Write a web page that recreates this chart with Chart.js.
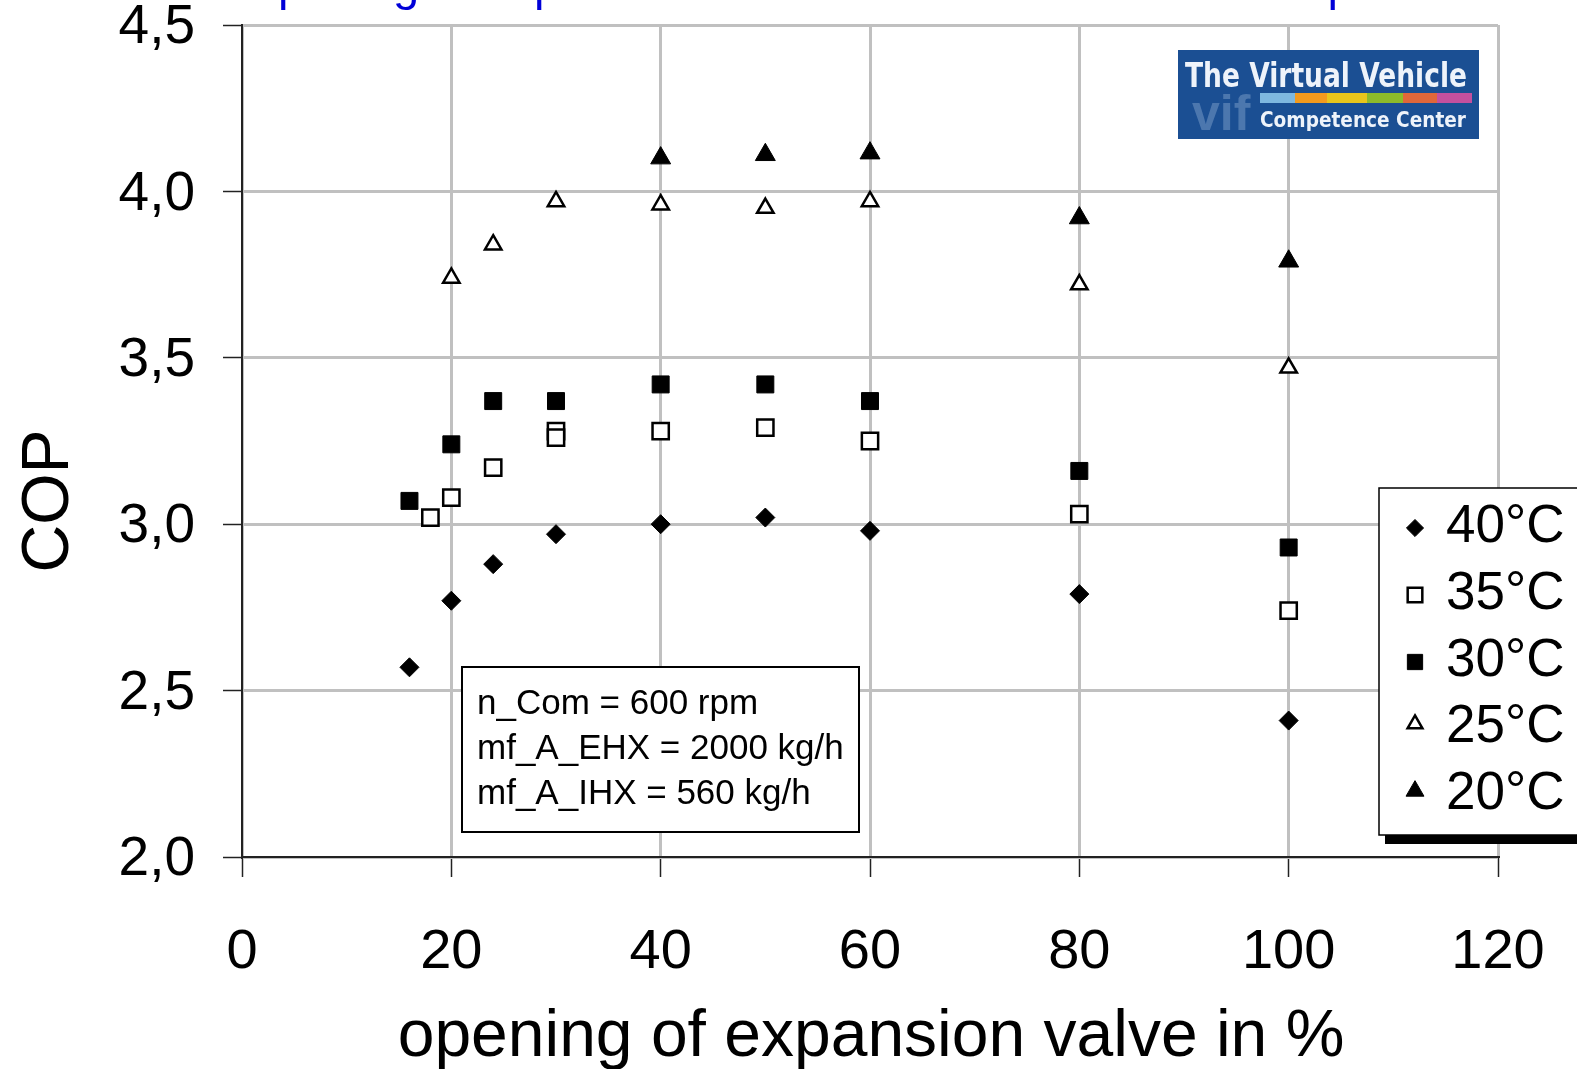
<!DOCTYPE html>
<html>
<head>
<meta charset="utf-8">
<title>COP vs opening of expansion valve</title>
<script src="https://cdn.jsdelivr.net/npm/chart.js@4.4.1/dist/chart.umd.min.js"></script>
<style>
  html, body { margin: 0; padding: 0; background: #fff; overflow: hidden; }
</style>
</head>
<body>
<canvas id="grafico" width="1577" height="1069"></canvas>
<script>
// Datos (apertura de la válvula en %, COP)
const nombresSeries = ['40°C', '35°C', '30°C', '25°C', '20°C'];

const x40 = [16, 20, 24, 30, 40, 50, 60, 80, 100];
const y40 = [2.57, 2.77, 2.88, 2.97, 3.00, 3.02, 2.98, 2.79, 2.41];

const x35 = [18, 20, 24, 30, 30, 40, 50, 60, 80, 100];
const y35 = [3.02, 3.08, 3.17, 3.28, 3.26, 3.28, 3.29, 3.25, 3.03, 2.74];

const x30 = [16, 20, 24, 30, 40, 50, 60, 80, 100];
const y30 = [3.07, 3.24, 3.37, 3.37, 3.42, 3.42, 3.37, 3.16, 2.93];

const x25 = [20, 24, 30, 40, 50, 60, 80, 100];
const y25 = [3.74, 3.84, 3.97, 3.96, 3.95, 3.97, 3.72, 3.47];

const x20 = [40, 50, 60, 80, 100];
const y20 = [4.10, 4.11, 4.115, 3.92, 3.79];

const ticksX = [0, 20, 40, 60, 80, 100, 120];
const ticksY = [2.0, 2.5, 3.0, 3.5, 4.0, 4.5];

const tituloTexto = 'COP over opening of expansion valve at different ambient temperatures';
const tituloX = 'opening of expansion valve in %';
const tituloY = 'COP';
const notas = ['n_Com = 600 rpm', 'mf_A_EHX = 2000 kg/h', 'mf_A_IHX = 560 kg/h'];

document.addEventListener('DOMContentLoaded', function () {
    const FUENTE = '"Liberation Sans", Arial, sans-serif';

    // Convierte dos listas en puntos {x, y}
    function puntos(xs, ys) {
        return xs.map(function (x, i) { return { x: x, y: ys[i] }; });
    }

    const estilos = [
        { pointStyle: 'rectRot', radius: 9.5, fondo: '#000', borde: 1 },
        { pointStyle: 'rect', radius: 11.5, fondo: '#fff', borde: 2.5 },
        { pointStyle: 'rect', radius: 12, fondo: '#000', borde: 1 },
        { pointStyle: 'triangle', radius: 9.5, fondo: '#fff', borde: 2.5 },
        { pointStyle: 'triangle', radius: 11.5, fondo: '#000', borde: 1 }
    ];
    const series = [[x40, y40], [x35, y35], [x30, y30], [x25, y25], [x20, y20]];

    const datasets = series.map(function (s, i) {
        return {
            label: nombresSeries[i],
            data: puntos(s[0], s[1]),
            showLine: false,
            pointStyle: estilos[i].pointStyle,
            pointRadius: estilos[i].radius,
            pointHoverRadius: estilos[i].radius,
            pointBackgroundColor: estilos[i].fondo,
            pointBorderColor: '#000',
            pointBorderWidth: estilos[i].borde
        };
    });

    // Plugin para título cortado, títulos de ejes, cuadro de notas, logo y leyenda
    const extras = {
        id: 'extras',
        afterDraw: function (chart) {
            const ctx = chart.ctx;
            ctx.save();

            // Título azul (casi fuera del lienzo)
            ctx.font = '47px ' + FUENTE;
            ctx.fillStyle = '#0000d8';
            ctx.textAlign = 'left';
            ctx.textBaseline = 'alphabetic';
            const x0 = 278 - ctx.measureText('COP over o').width;
            ctx.fillText(tituloTexto, x0, 0);

            // Título eje X
            ctx.fillStyle = '#000';
            ctx.font = '66px ' + FUENTE;
            ctx.textAlign = 'center';
            ctx.fillText(tituloX, 871, 1056);

            // Título eje Y
            ctx.save();
            ctx.translate(68, 501);
            ctx.rotate(-Math.PI / 2);
            ctx.font = '66px ' + FUENTE;
            ctx.fillText(tituloY, 0, 0);
            ctx.restore();

            // Cuadro de notas
            ctx.fillStyle = '#fff';
            ctx.fillRect(462, 667, 397, 165);
            ctx.strokeStyle = '#000';
            ctx.lineWidth = 2;
            ctx.strokeRect(462, 667, 397, 165);
            ctx.fillStyle = '#000';
            ctx.font = '35px ' + FUENTE;
            ctx.textAlign = 'left';
            const lineasY = [714, 759, 804];
            notas.forEach(function (t, i) { ctx.fillText(t, 477, lineasY[i]); });

            // Logo
            ctx.fillStyle = '#1b4f93';
            ctx.fillRect(1178, 50, 301, 89);
            ctx.fillStyle = 'rgba(170, 195, 225, 0.35)';
            ctx.font = 'bold 50px ' + FUENTE;
            ctx.fillText('vif', 1192, 130, 68);
            const colores = ['#7fb8df', '#f39a1e', '#e8c51c', '#8dbb2a', '#e0673a', '#c4509e'];
            const cortes = [1260, 1295, 1327, 1367, 1403, 1437, 1472];
            colores.forEach(function (c, i) {
                ctx.fillStyle = c;
                ctx.fillRect(cortes[i], 93, cortes[i + 1] - cortes[i], 10);
            });
            ctx.fillStyle = '#eef3fa';
            ctx.font = 'bold 33px "DejaVu Sans", ' + FUENTE;
            ctx.fillText('The Virtual Vehicle', 1185, 87, 282);
            ctx.font = 'bold 21px "DejaVu Sans", ' + FUENTE;
            ctx.fillText('Competence Center', 1260, 127, 206);

            // Leyenda
            ctx.fillStyle = '#000';
            ctx.fillRect(1385, 835, 200, 9);
            ctx.fillStyle = '#fff';
            ctx.fillRect(1379, 488, 210, 347);
            ctx.strokeStyle = '#000';
            ctx.lineWidth = 1.5;
            ctx.strokeRect(1379, 488, 210, 347);
            const filas = [523, 590, 657, 723, 790];
            ctx.font = '53px ' + FUENTE;
            datasets.forEach(function (d, i) {
                ctx.fillStyle = d.pointBackgroundColor;
                ctx.strokeStyle = '#000';
                ctx.lineWidth = d.pointBorderWidth;
                const dy = d.pointStyle === 'triangle' ? 1 : 5;
                Chart.helpers.drawPoint(ctx, {
                    pointStyle: d.pointStyle,
                    radius: d.pointRadius * 0.9,
                    rotation: 0,
                    borderWidth: d.pointBorderWidth
                }, 1415, filas[i] + dy);
                ctx.fillStyle = '#000';
                ctx.fillText(d.label, 1446, filas[i] + 19);
            });

            ctx.restore();
        }
    };

    const ctx = document.getElementById('grafico').getContext('2d');
    new Chart(ctx, {
        type: 'scatter',
        data: { datasets: datasets },
        options: {
            responsive: false,
            animation: false,
            layout: { padding: { top: 25, right: 79, left: 0, bottom: 0 } },
            plugins: { legend: { display: false }, tooltip: { enabled: false } },
            scales: {
                x: {
                    type: 'linear',
                    min: ticksX[0],
                    max: ticksX[ticksX.length - 1],
                    afterBuildTicks: function (scale) {
                        scale.ticks = ticksX.map(function (v) { return { value: v }; });
                    },
                    ticks: { color: '#000', font: { family: FUENTE, size: 56 }, padding: 42, maxRotation: 0 },
                    grid: { color: '#c0c0c0', lineWidth: 3, tickColor: '#222', tickLength: 20, tickWidth: 1.5 },
                    border: { color: '#222', width: 2 },
                    afterFit: function (scale) {
                        scale.height = 212;
                        scale.paddingLeft = 0;
                        scale.paddingRight = 0;
                    }
                },
                y: {
                    type: 'linear',
                    min: ticksY[0],
                    max: ticksY[ticksY.length - 1],
                    afterBuildTicks: function (scale) {
                        scale.ticks = ticksY.map(function (v) { return { value: v }; });
                    },
                    ticks: {
                        color: '#000',
                        font: { family: FUENTE, size: 55 },
                        padding: 28,
                        labelOffset: 3,
                        callback: function (v) { return v.toFixed(1).replace('.', ','); }
                    },
                    grid: { color: '#c0c0c0', lineWidth: 3, tickColor: '#222', tickLength: 19, tickWidth: 1.5 },
                    border: { color: '#222', width: 2 },
                    afterFit: function (scale) {
                        scale.width = 242;
                        scale.paddingTop = 0;
                        scale.paddingBottom = 0;
                    }
                }
            }
        },
        plugins: [extras]
    });
});
</script>
</body>
</html>
